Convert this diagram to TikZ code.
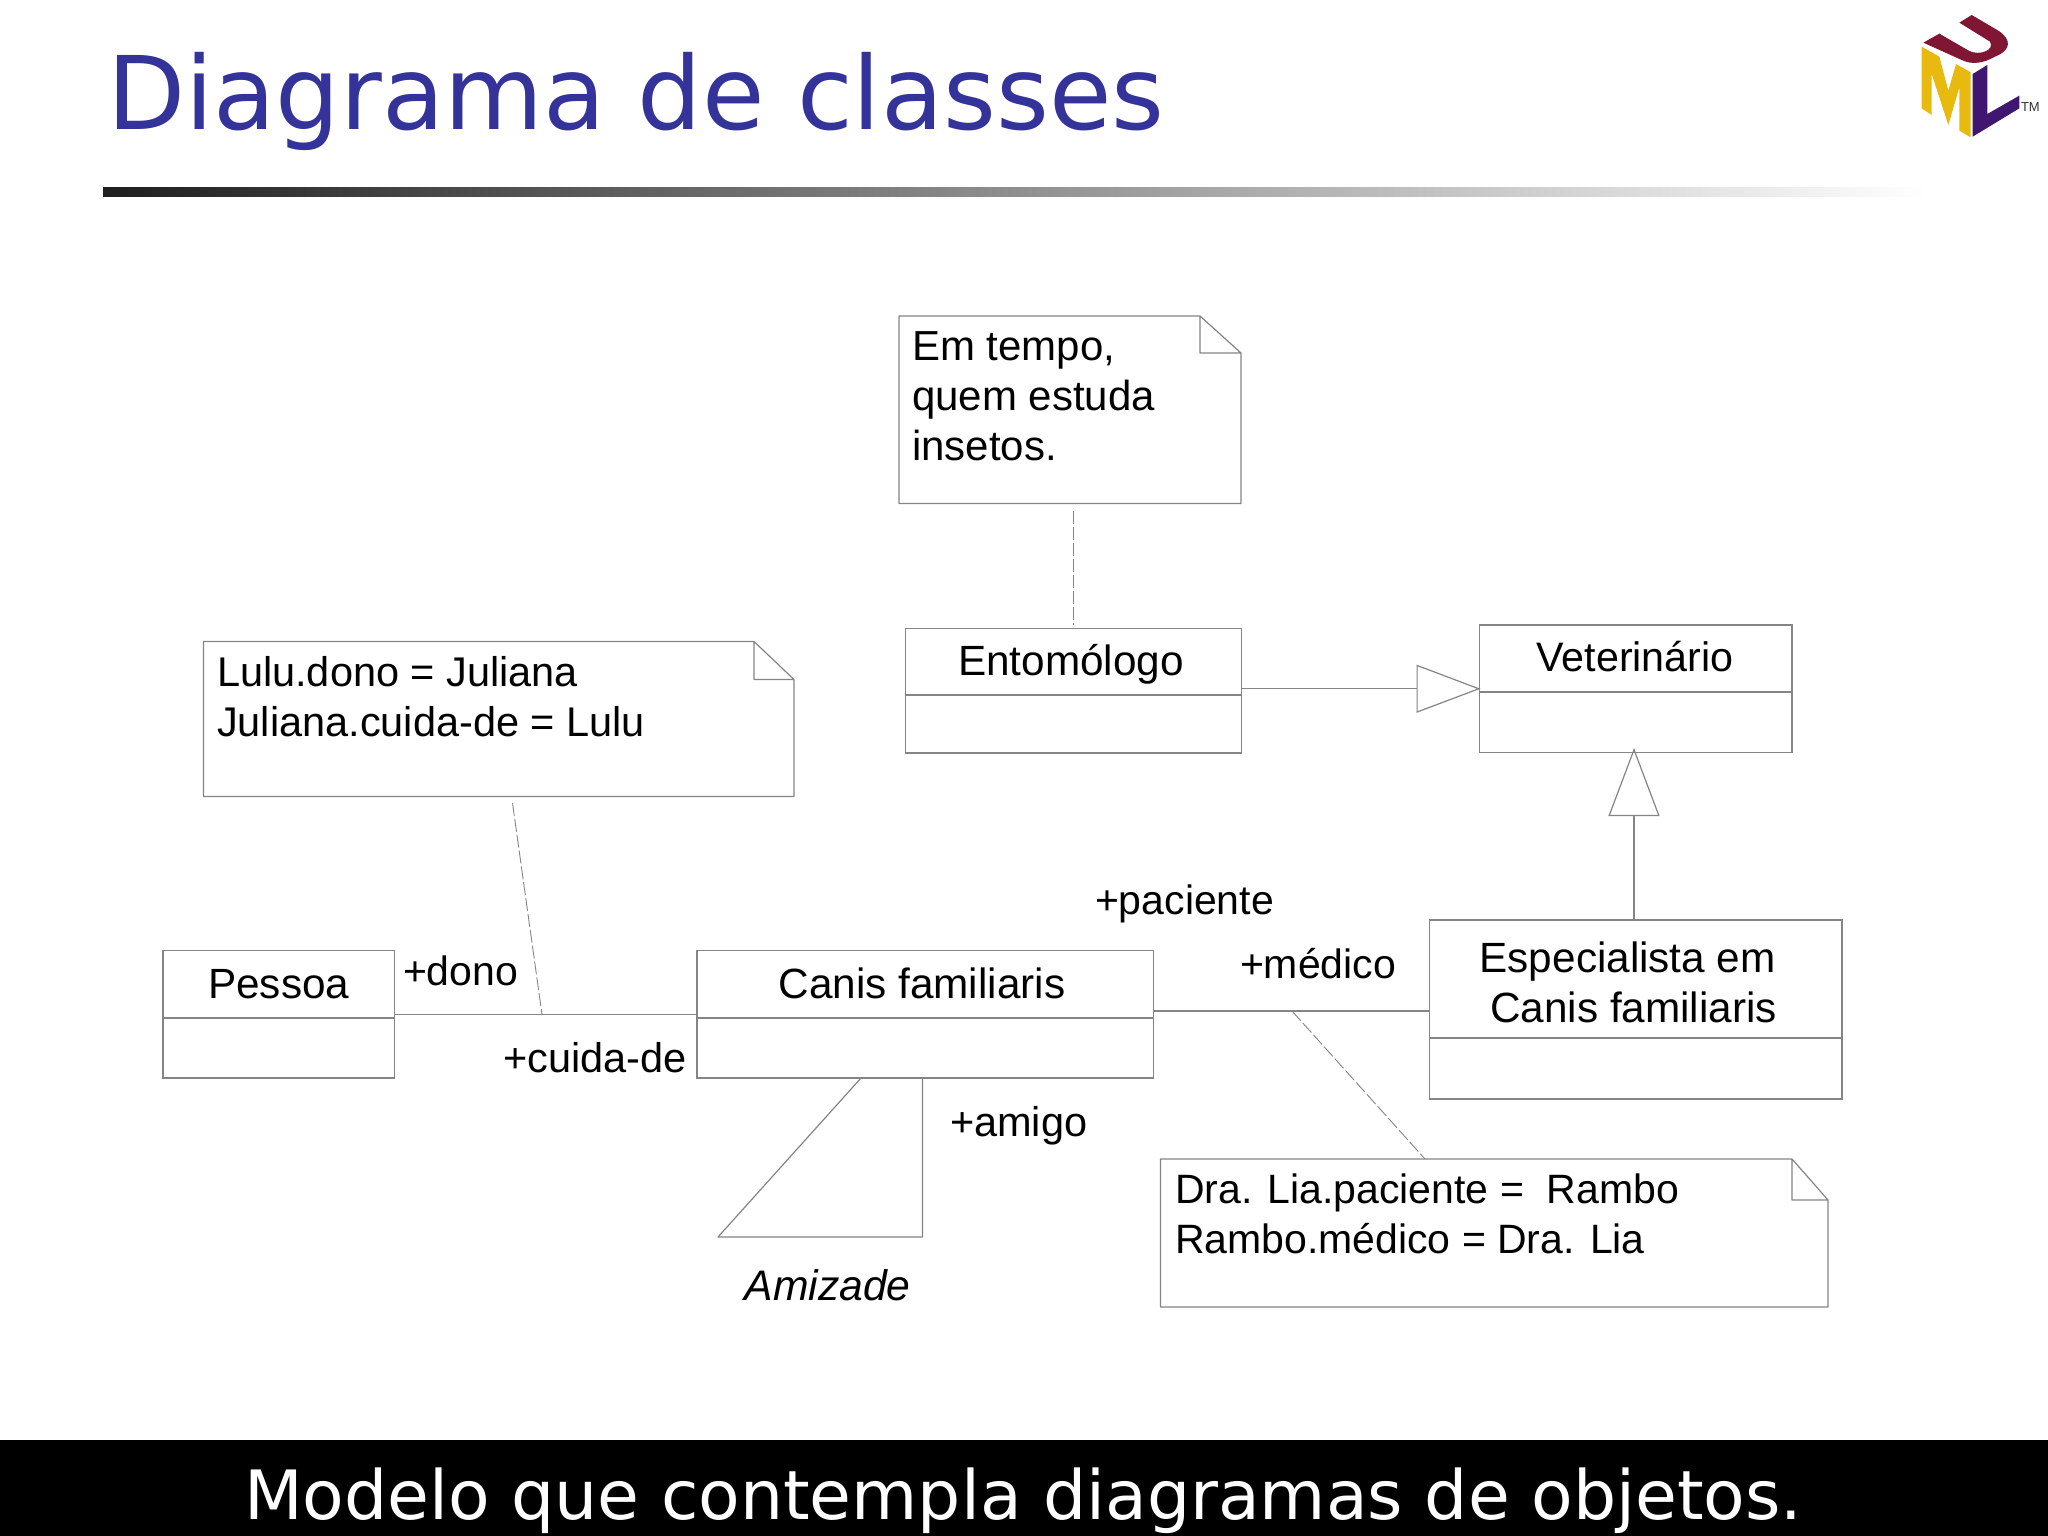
\documentclass[tikz,border=0pt]{standalone}
\usepackage{fontspec}
\setmainfont{Liberation Sans}
\newfontfamily\dejafont{DejaVu Sans}
\usetikzlibrary{arrows.meta}
\definecolor{titleblue}{HTML}{333399}
\definecolor{linegray}{HTML}{858585}
\definecolor{umlmaroon}{HTML}{7F1734}
\definecolor{umlyellow}{HTML}{E8B90F}
\definecolor{umlpurple}{HTML}{3F1670}
\tikzset{
  ln/.style={draw=linegray,line width=1.2pt},
  dashln/.style={draw=linegray,line width=0.9pt,dash pattern=on 13pt off 3pt},
  genln/.style={ln,-{Triangle[open,length=64pt,width=48pt]}},
  genup/.style={ln,-{Triangle[open,length=68pt,width=51pt]}},
  boxnode/.style={draw=linegray,line width=1.2pt,inner sep=0pt,outer sep=0pt},
  holder/.style={inner sep=0pt,outer sep=0pt},
  txt/.style={inner sep=0pt,outer sep=0pt,anchor=base west,text=black,font=\fontsize{41}{50}\selectfont},
  ctxt/.style={txt,anchor=base,font=\fontsize{42.3}{50}\selectfont},
  ntxt/.style={txt,font=\fontsize{42}{50}\selectfont},
}
\newcommand\classbox[6]{%
  \node[boxnode,minimum width={(#4-#2)*1pt},minimum height={(#5-#3)*1pt}] (#1) at ({(#2+#4)/2},{(#3+#5)/2}) {};
  \draw[ln] (#1.west |- 0,#6) -- (#1.east |- 0,#6);
}
\newcommand\notebox[7]{%
  \node[holder,minimum width={(#4-#2)*1pt},minimum height={(#5-#3)*1pt}] (#1) at ({(#2+#4)/2},{(#3+#5)/2}) {};
  \draw[ln,line join=round] (#1.north west) -- ([xshift=-#6pt]#1.north east) -- ([yshift=-#7pt]#1.north east) -- (#1.south east) -- (#1.south west) -- cycle
    ([xshift=-#6pt]#1.north east) |- ([yshift=-#7pt]#1.north east);
}
\begin{document}
\begin{tikzpicture}[x=1pt,y=-1pt]
\useasboundingbox (0,0) rectangle (2048,1536);
\fill[white] (0,0) rectangle (2048,1536);
% title
\node[txt,text=titleblue,font=\dejafont\fontsize{101.6}{110}\selectfont] (title) at (107,130) {Diagrama de classes};
\shade[left color=black!88,right color=white] (103,187) rectangle (1925,196);
% logo
\begin{scope}[shift={(1880,0)},x=0.3333pt,y=-0.3333pt]
\fill[umlmaroon] (130,128) -- (178,101) -- (268,153) .. controls (300,168) and (345,150) .. (330,125) -- (238,68) -- (275,45) -- (355,92) .. controls (395,118) and (395,150) .. (345,170) .. controls (310,190) and (275,195) .. (245,180) -- cycle;
\fill[umlyellow] (125,140) -- (178,170) -- (205,272) -- (228,192) -- (272,217) -- (272,412) -- (238,392) -- (238,262) -- (205,375) -- (155,222) -- (155,345) -- (125,325) -- cycle;
\fill[umlpurple] (278,222) -- (322,195) -- (322,342) -- (418,287) -- (418,325) -- (278,410) -- cycle;
\end{scope}
\node[txt,font=\fontsize{13}{13}\selectfont,text=black!80] (tm) at (2021,112) {TM};
% classes
\classbox{ent}{905.5}{628.5}{1241.5}{753}{695}
\classbox{vet}{1479.5}{625}{1792}{752.5}{692}
\classbox{esp}{1429.5}{920}{1842}{1099}{1038}
\classbox{canis}{697}{950.5}{1153.5}{1078}{1018}
\classbox{pes}{163}{950.5}{394.5}{1078}{1018}
% notes
\notebox{n1}{899}{316}{1241}{503.5}{41}{37}
\notebox{n2}{203.5}{641.5}{794}{796.5}{40}{38}
\notebox{n3}{1160.5}{1159}{1828}{1307}{36}{41}
% class names
\node[ctxt] (tent) at (1071,675) {Entomólogo};
\node[ctxt,font=\fontsize{41.2}{50}\selectfont] (tvet) at (1635,671.5) {Veterinário};
\node[ctxt] (tesp1) at (1627.7,972) {Especialista em};
\node[ctxt] (tesp2) at (1633.6,1022) {Canis familiaris};
\node[ctxt] (tcan) at (922,998) {Canis familiaris};
\node[ctxt] (tpes) at (278.7,998) {Pessoa};
% note text
\node[ntxt] (n1a) at (912,360) {Em tempo,};
\node[ntxt] (n1b) at (912,410) {quem estuda};
\node[ntxt] (n1c) at (912,460) {insetos.};
\node[txt,font=\fontsize{41.5}{50}\selectfont] (n2a) at (217,686) {Lulu.dono = Juliana};
\node[txt,font=\fontsize{41.5}{50}\selectfont] (n2b) at (217,736) {Juliana.cuida-de = Lulu};
\node[txt] (n3a) at (1175,1203.5) {Dra. Lia.paciente =\ \ Rambo};
\node[txt] (n3b) at (1175,1253.5) {Rambo.médico = Dra. Lia};
% roles
\node[txt] (r1) at (403,985) {+dono};
\node[txt,font=\fontsize{41.5}{50}\selectfont] (r2) at (503.5,1072) {+cuida-de};
\node[txt,font=\fontsize{41.5}{50}\selectfont] (r3) at (950,1136) {+amigo};
\node[txt] (r4) at (1095,914) {+paciente};
\node[txt] (r5) at (1240,978) {+médico};
\node[txt,font=\itshape\fontsize{42.7}{50}\selectfont] (r6) at (744.6,1300) {Amizade};
% free ends
\coordinate (d1a) at (1073,511);
\coordinate (d1b) at (1073,625);
\coordinate (d2a) at (512.5,803);
\coordinate (d2b) at (542,1014.5);
\coordinate (d3a) at (1292,1011);
\coordinate (d3b) at (1425,1159);
\coordinate (vtip) at (1634,748);
\coordinate (sa) at (861,1078);
\coordinate (sb) at (718,1237);
\coordinate (sc) at (922.5,1237);
\coordinate (sd) at (922.5,1078);
% connectors
\draw[genln] (ent.east |- vet.west) -- ([xshift=1pt]vet.west);
\draw[genup] (esp.north -| vtip) -- (vtip);
\draw[ln] (pes.east) -- (canis.west);
\draw[ln] (canis.east |- d3a) -- (esp.west |- d3a);
\draw[ln,line join=round] (sa) -- (sb) -- (sc) -- (sd);
\draw[dashln] (d1a) -- (d1b);
\draw[dashln] (d2a) -- (d2b);
\draw[dashln] (d3a) -- (d3b);
% caption
\fill[black] (0,1440) rectangle (2048,1536);
\node[txt,text=white,font=\dejafont\fontsize{68}{74}\selectfont] (cap) at (244,1519) {Modelo que contempla diagramas de objetos.};
\end{tikzpicture}
\end{document}
